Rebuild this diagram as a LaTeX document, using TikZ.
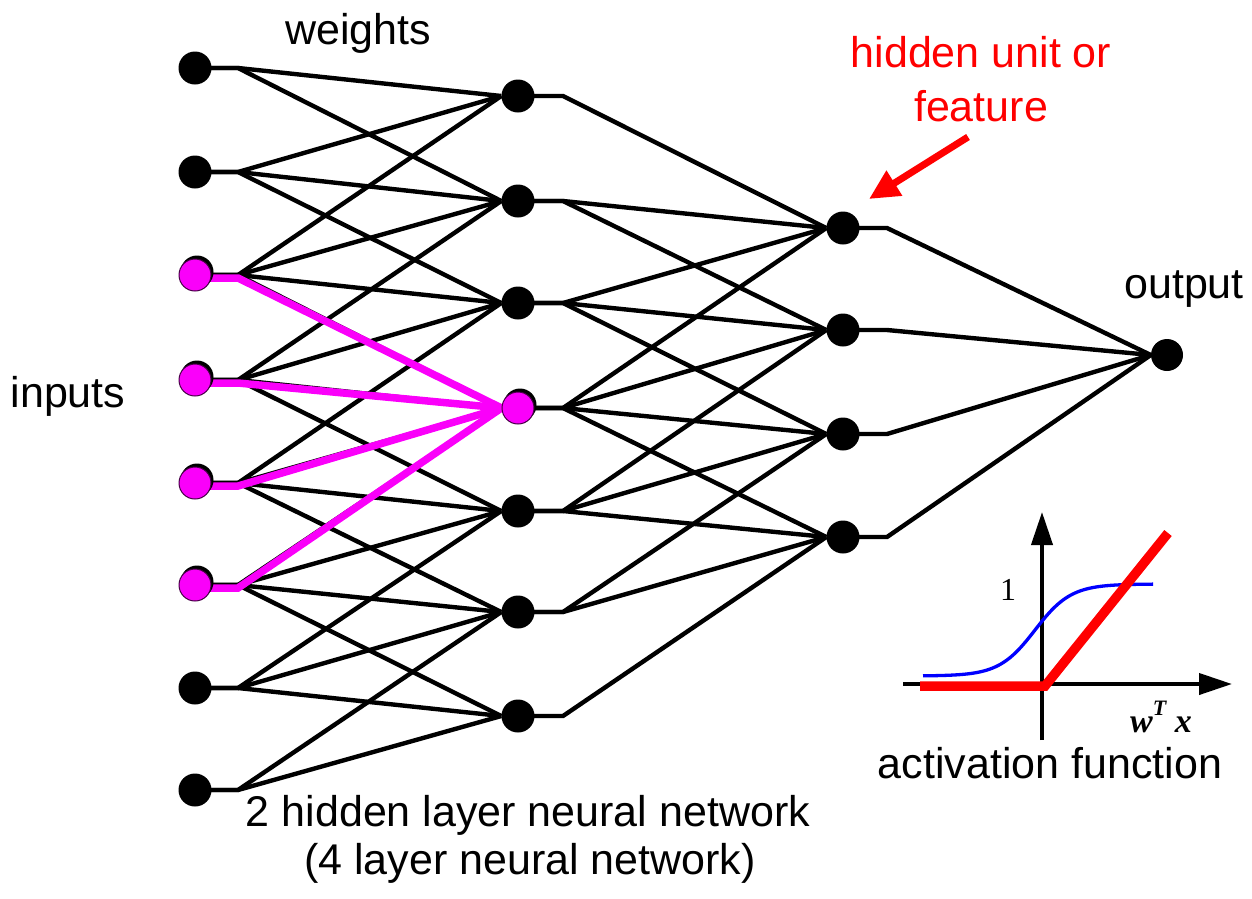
\documentclass[tikz,border=0pt]{standalone}
\usepackage{fontspec}
\setmainfont{Liberation Sans}
\newfontfamily\seriffont{Liberation Serif}
\usetikzlibrary{arrows.meta}
\pgfdeclarelayer{bg}
\pgfsetlayers{bg,main}
\definecolor{hotpink}{RGB}{250,0,250}
\definecolor{hotedge}{RGB}{70,0,70}

\begin{document}
\begin{tikzpicture}[x=1pt,y=-1pt,
  unit/.style={circle, fill=black, minimum size=33pt, inner sep=0pt},
  hot/.style={circle, fill=hotpink, draw=hotedge, line width=1pt, minimum size=32pt, inner sep=0pt},
  wire/.style={line width=4.4pt, black},
  hotwire/.style={line width=7.5pt, hotpink},
  lbl/.style={font=\fontsize{43}{50}\selectfont, anchor=base, inner sep=0pt},
  axis/.style={line width=4pt, black, -{Triangle[length=33pt,width=21pt]}}]
\useasboundingbox (0,0) rectangle (1252,898);

% input layer (units 3-6 highlighted)
\foreach \i/\y in {1/68,2/172,7/688,8/790}
  \node[unit] (i\i) at (195,\y) {};
\foreach \i/\y in {3/275,4/380,5/483,6/585}{
  \fill (197,\y-3) circle (16.5);
  \node[hot] (i\i) at (195,\y) {};
}
\foreach \i in {1,...,8}
  \coordinate (si\i) at ([xshift=43pt]i\i.center);

% first hidden layer (unit 4 highlighted)
\foreach \j/\y in {1/96,2/201,3/303,5/511,6/612,7/716}
  \node[unit] (h\j) at (518,\y) {};
\fill (520,405) circle (16.5);
\node[hot] (h4) at (518,408) {};
\foreach \j in {1,...,7}
  \coordinate (sh\j) at ([xshift=45pt]h\j.center);

% second hidden layer
\foreach \k/\y in {1/228,2/330,3/434,4/537}
  \node[unit] (g\k) at (843,\y) {};
\foreach \k in {1,...,4}
  \coordinate (sg\k) at ([xshift=44pt]g\k.center);

% output unit
\node[unit, minimum size=32pt] (out) at (1167,355) {};

\begin{pgfonlayer}{bg}
  % inputs -> first hidden layer
  \foreach \i in {1,...,8}{
    \foreach \j in {1,...,7}{
      \ifnum\numexpr\j-\i\relax>-3
        \ifnum\numexpr\j-\i\relax<2
          \draw[wire] (i\i.center) -- (si\i) -- (h\j.west);
        \fi
      \fi
    }
  }
  % first -> second hidden layer
  \foreach \j in {1,...,7}{
    \foreach \k in {1,...,4}{
      \ifnum\numexpr\j-\k\relax>-1
        \ifnum\numexpr\j-\k\relax<4
          \draw[wire] (h\j.center) -- (sh\j) -- (g\k.west);
        \fi
      \fi
    }
  }
  % second hidden layer -> output
  \foreach \k in {1,...,4}
    \draw[wire] (g\k.center) -- (sg\k) -- (out.west);
  % highlighted weights into hidden unit 4
  \foreach \i in {3,...,6}
    \draw[hotwire] ([yshift=-3pt]i\i.center) -- ([yshift=-3pt]si\i) -- (h4.west);
\end{pgfonlayer}

% labels
\node[lbl] (wlbl) at (358,44) {weights};
\node[lbl] (inlbl) at (68,407) {inputs};
\node[lbl] (outlbl) at (1184,298) {output};
\node[lbl, red] (hu1) at (981,67) {hidden unit or};
\node[lbl, red] (hu2) at (981,121) {feature};
\node[lbl] (cap1) at (528,826) {2 hidden layer neural network};
\node[lbl] (cap2) at (530,874) {(4 layer neural network)};

% pointer to the hidden unit
\coordinate (ptail) at (968,137);
\coordinate (ptip) at (869,199);
\draw[red, line width=7pt, -{Triangle[length=30pt,width=28pt]}] (ptail) -- (ptip);

% activation function inset
\coordinate (ax0) at (903,684);
\coordinate (ax1) at (1232,684);
\coordinate (ay0) at (1042,740);
\coordinate (ay1) at (1042,512);
\draw[axis] (ax0) -- (ax1);
\draw[axis] (ay0) -- (ay1);
\draw[blue, line width=3.3pt] plot[domain=923:1153, samples=90]
  (\x, {676 - 92/(1+exp(-(\x-1035)/18))});
\coordinate (r0) at (920,686);
\coordinate (r1) at (1045,686);
\coordinate (r2) at (1168,533);
\draw[red, line width=9.5pt, line join=miter] (r0) -- (r1) -- (r2);
\node[font=\seriffont\fontsize{32}{34}\selectfont, anchor=base, inner sep=0pt] (one) at (1008,600) {1};
\node[font=\seriffont\bfseries\itshape\fontsize{34}{36}\selectfont, anchor=base, inner sep=0pt] (wx) at (1161,732)
  {w\raisebox{0.5em}{\fontsize{22}{24}\selectfont T}\hspace{0.25em}x};
\node[lbl] (actlbl) at (1050,778) {activation function};
\end{tikzpicture}
\end{document}
